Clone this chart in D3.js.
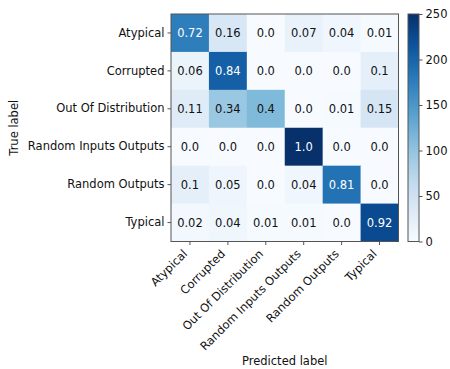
<!DOCTYPE html>
<html>
<head>
<meta charset="utf-8">
<script src="https://cdn.jsdelivr.net/npm/d3@7"></script>
<style>
  html, body { margin: 0; padding: 0; background: #fff; }
  svg { display: block; font-family: "DejaVu Sans", sans-serif; }
</style>
</head>
<body>
<svg id="chart" width="450" height="369"></svg>
<script>
// Class names (true labels on rows, predicted labels on columns)
const classes = ["Atypical", "Corrupted", "Out Of Distribution", "Random Inputs Outputs", "Random Outputs", "Typical"];

// Row-normalised rates, as printed in each cell
const rates = [
  [0.72, 0.16, 0.0, 0.07, 0.04, 0.01],
  [0.06, 0.84, 0.0, 0.0, 0.0, 0.1],
  [0.11, 0.34, 0.4, 0.0, 0.01, 0.15],
  [0.0, 0.0, 0.0, 1.0, 0.0, 0.0],
  [0.1, 0.05, 0.0, 0.04, 0.81, 0.0],
  [0.02, 0.04, 0.01, 0.01, 0.0, 0.92]
];

// Number of samples per true class (row support)
const support = [243, 244, 280, 250, 231, 245];

// Colour-bar ticks
const colorTicks = [0, 50, 100, 150, 200, 250];

const svg = d3.select("#chart");
const plotLeft = 171, plotTop = 14, size = 227.5;
const cbX = 408, cbW = 11;
const axisColor = "#555";
const fs = 11.5;

// Cell counts drive the colour
const counts = rates.map((row, i) => row.map(r => r * support[i]));
const vmax = d3.max(counts.flat());

const x = d3.scaleBand().domain(classes).range([plotLeft, plotLeft + size]);
const y = d3.scaleBand().domain(classes).range([plotTop, plotTop + size]);
const color = d3.scaleSequential(d3.interpolateBlues).domain([0, vmax]);

const cells = [];
rates.forEach((row, i) => row.forEach((r, j) => cells.push({ t: classes[i], p: classes[j], r, c: counts[i][j] })));

const fmt = v => { let s = String(v); if (!s.includes(".")) s += ".0"; return s; };

svg.append("g").selectAll("rect").data(cells).join("rect")
  .attr("x", d => x(d.p)).attr("y", d => y(d.t))
  .attr("width", x.bandwidth() + 0.5).attr("height", y.bandwidth() + 0.5)
  .attr("fill", d => color(d.c));

svg.append("g").selectAll("text").data(cells).join("text")
  .attr("x", d => x(d.p) + x.bandwidth() / 2)
  .attr("y", d => y(d.t) + y.bandwidth() / 2)
  .attr("dy", "0.35em")
  .attr("text-anchor", "middle")
  .attr("font-size", fs)
  .attr("fill", d => d.c > vmax / 2 ? "#fff" : "#111")
  .text(d => fmt(d.r));

// Frame
svg.append("rect").attr("x", plotLeft).attr("y", plotTop).attr("width", size).attr("height", size)
  .attr("fill", "none").attr("stroke", axisColor).attr("stroke-width", 1);

// Y axis
const yAxis = svg.append("g").attr("transform", `translate(${plotLeft},0)`)
  .call(d3.axisLeft(y).tickSize(3.5).tickPadding(3));
yAxis.select(".domain").remove();
yAxis.selectAll("line").attr("stroke", axisColor);
yAxis.selectAll("text").attr("font-size", fs).attr("fill", "#111").attr("font-family", "DejaVu Sans");

// X axis with rotated labels
const xAxis = svg.append("g").attr("transform", `translate(0,${plotTop + size})`)
  .call(d3.axisBottom(x).tickSize(3.5));
xAxis.select(".domain").remove();
xAxis.selectAll("line").attr("stroke", axisColor);
xAxis.selectAll("text")
  .attr("font-size", fs).attr("fill", "#111").attr("font-family", "DejaVu Sans")
  .attr("text-anchor", "end")
  .attr("y", 0).attr("dy", 0)
  .attr("transform", "translate(-2,13) rotate(-45)");

// Axis titles
svg.append("text").attr("x", plotLeft + size / 2).attr("y", 365)
  .attr("text-anchor", "middle").attr("font-size", fs).attr("fill", "#111")
  .text("Predicted label");
svg.append("text").attr("transform", `translate(18,${plotTop + size / 2}) rotate(-90)`)
  .attr("text-anchor", "middle").attr("font-size", fs).attr("fill", "#111")
  .text("True label");

// Colour bar
const defs = svg.append("defs");
const grad = defs.append("linearGradient").attr("id", "cbar")
  .attr("x1", 0).attr("y1", 1).attr("x2", 0).attr("y2", 0);
d3.range(0, 1.0001, 0.05).forEach(t => grad.append("stop")
  .attr("offset", t).attr("stop-color", d3.interpolateBlues(t)));

const cbScale = d3.scaleLinear().domain([0, vmax]).range([plotTop + size, plotTop]);
svg.append("rect").attr("x", cbX).attr("y", plotTop).attr("width", cbW).attr("height", size)
  .attr("fill", "url(#cbar)").attr("stroke", axisColor).attr("stroke-width", 1);
const cbAxis = svg.append("g").attr("transform", `translate(${cbX + cbW},0)`)
  .call(d3.axisRight(cbScale).tickValues(colorTicks).tickSize(3.5).tickPadding(3));
cbAxis.select(".domain").remove();
cbAxis.selectAll("line").attr("stroke", axisColor);
cbAxis.selectAll("text").attr("font-size", fs).attr("fill", "#111").attr("font-family", "DejaVu Sans");
</script>
</body>
</html>
